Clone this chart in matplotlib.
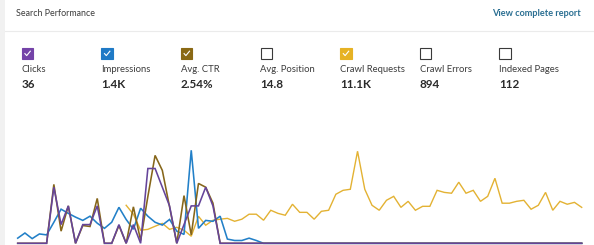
import numpy as np
import matplotlib
matplotlib.use("Agg")
import matplotlib.pyplot as plt
from matplotlib.patches import Rectangle
from matplotlib.lines import Line2D

W, H = 594, 245

plt.rcParams["font.family"] = ["Lato", "DejaVu Sans"]

# metric tiles
METRIC_NAMES = ["Clicks", "Impressions", "Avg. CTR", "Avg. Position",
                "Crawl Requests", "Crawl Errors", "Indexed Pages"]
METRIC_VALUES = ["36", "1.4K", "2.54%", "14.8", "11.1K", "894", "112"]
METRIC_ON = [True, True, True, False, True, False, False]
METRIC_COLORS = ["#7443a8", "#1f7ac6", "#8a6914", None, "#e6b224", None, None]

# daily series, 79 days
clicks = [0, 0, 0, 0, 0, 3, 1, 2, 0, 1, 1, 2, 0, 0, 1, 0, 1, 0, 4, 4,
          3, 2, 0, 1, 2, 2, 3, 2] + [0] * 51
impressions = [11, 22, 10, 20, 18, 45, 73, 64, 56, 49, 58, 43, 32, 45, 77, 51, 30, 75, 58, 45,
               39, 51, 26, 19, 199, 32, 49, 47, 58, 9, 6, 6, 11, 6] + [0] * 45
ctr = [0, 0, 0, 0, 0, 6.3, 1.3, 4.0, 0, 1.9, 1.8, 4.8, 0, 0, 1.9, 0, 3.9, 0.3, 5.0, 9.4,
       7.8, 3.9, 0, 5.1, 0.9, 6.4, 6.0, 4.3] + [0] * 51
crawl = [None] * 15 + [183, 140, 63, 67, 82, 96, 67, 77, 63, 34,
                       130, 87, 111, 116, 120, 106, 116, 140, 140, 111,
                       159, 144, 135, 188, 149, 149, 116, 154, 159, 236,
                       255, 260, 443, 260, 183, 159, 207, 226, 173, 202,
                       159, 178, 178, 255, 245, 241, 294, 241, 255, 202,
                       226, 313, 193, 193, 202, 207, 164, 183, 245, 159,
                       202, 188, 197, 173]

SERIES = [
    ("Crawl Requests", crawl, 450, "#e3b233", 1.0),
    ("Impressions", impressions, 200, "#2280c8", 1.15),
    ("Avg. CTR", ctr, 10, "#86661a", 1.15),
    ("Clicks", clicks, 5, "#65449a", 1.15),
]


def fx(x):
    return x / W


def fy(y):
    return 1 - y / H


fig = plt.figure(figsize=(W / 100, H / 100), dpi=100)
fig.patch.set_facecolor("white")

# left strip and header divider
fig.add_artist(Rectangle((0, 0), fx(5), 1, transform=fig.transFigure,
                         facecolor="#f1f1f1", edgecolor="none"))
fig.add_artist(Line2D([fx(5), 1], [fy(31), fy(31)], transform=fig.transFigure,
                      color="#ebebeb", lw=0.8))

fig.text(fx(16), fy(14), "Search Performance", fontsize=6.4, color="#3c3c3c",
         ha="left", va="center")
fig.text(fx(581), fy(14), "View complete report", fontsize=6.6, color="#2b6f92",
         ha="right", va="center", fontweight="bold")

for k, name in enumerate(METRIC_NAMES):
    x0 = 21.7 + 79.6 * k
    on = METRIC_ON[k]
    face = METRIC_COLORS[k] if on else "white"
    edge = METRIC_COLORS[k] if on else "#3a3a3a"
    fig.add_artist(Rectangle((fx(x0), fy(59.3)), 11.6 / W, 11.6 / H,
                             transform=fig.transFigure, facecolor=face,
                             edgecolor=edge, lw=0.8))
    if on:
        cx = [x0 + 3.2, x0 + 5.0, x0 + 8.6]
        cy = [53.6, 55.6, 51.2]
        fig.add_artist(Line2D([fx(v) for v in cx], [fy(v) for v in cy],
                              transform=fig.transFigure, color="white", lw=0.8))
    fig.text(fx(x0), fy(69.5), name, fontsize=6.8, color="#3c3c3c",
             ha="left", va="center")
    fig.text(fx(x0), fy(85), METRIC_VALUES[k], fontsize=8.4, color="#2a2a2a",
             ha="left", va="center", fontweight="bold")

# chart: one axes per series, each with its own scale, stacked on the same area
rect = [fx(17.7), 1.7 / H, 564 / W, 93.5 / H]
days = np.arange(79)
for i, (label, vals, top, color, lw) in enumerate(SERIES):
    ax = fig.add_axes(rect, label=label)
    y = np.array([np.nan if v is None else v for v in vals], dtype=float)
    ax.plot(days, y, color=color, lw=lw, clip_on=False, solid_joinstyle="miter")
    ax.set_xlim(0, 78)
    ax.set_ylim(0, top)
    ax.axis("off")
    ax.patch.set_alpha(0)

fig.savefig("out.png", dpi=100)
